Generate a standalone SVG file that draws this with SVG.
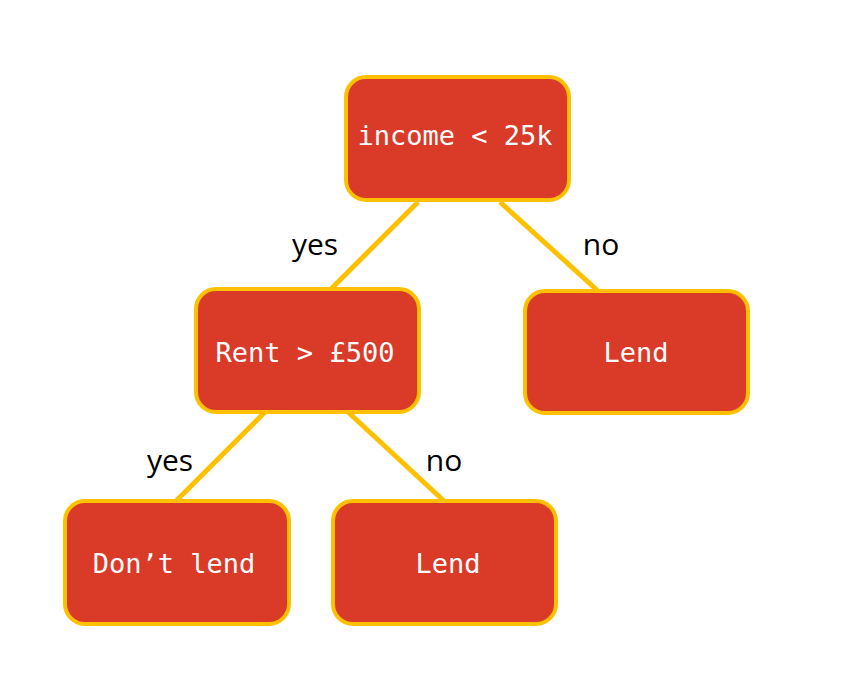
<svg xmlns="http://www.w3.org/2000/svg" width="841" height="685" viewBox="0 0 841 685">
<style>
.box{fill:#DA3A28;stroke:#FFC000;stroke-width:4}
.t{font-family:"DejaVu Sans Mono","Liberation Mono",monospace;font-size:27px;fill:#fff;text-anchor:middle;dominant-baseline:central}
.edge{stroke:#FFC000;stroke-width:5;fill:none}
.lbl{font-family:"Open Sans","Liberation Sans",sans-serif;font-size:30px;fill:#000;text-anchor:middle}
</style>
<rect width="841" height="685" fill="#fff"/>
<g id="connectors">
<line class="edge" x1="418" y1="202" x2="331" y2="289"/>
<line class="edge" x1="500" y1="202" x2="598" y2="291"/>
<line class="edge" x1="265" y1="412" x2="176" y2="501"/>
<line class="edge" x1="348" y1="412" x2="444" y2="501"/>
<text class="lbl" x="315" y="255">yes</text>
<text class="lbl" x="601" y="255">no</text>
<text class="lbl" x="170" y="471">yes</text>
<text class="lbl" x="444" y="471">no</text>
</g>
<g id="n-income">
<rect class="box" x="346" y="77" width="223" height="123" rx="20"/>
<text class="t" x="455" y="135">income &lt; 25k</text>
</g>
<g id="n-rent">
<rect class="box" x="196" y="289" width="223" height="123" rx="20"/>
<text class="t" x="305" y="352">Rent &gt; £500</text>
</g>
<g id="n-lend1">
<rect class="box" x="525" y="291" width="223" height="122" rx="20"/>
<text class="t" x="636" y="352">Lend</text>
</g>
<g id="n-dontlend">
<rect class="box" x="65" y="501" width="224" height="123" rx="20"/>
<text class="t" x="174" y="563">Don’t lend</text>
</g>
<g id="n-lend2">
<rect class="box" x="333" y="501" width="223" height="123" rx="20"/>
<text class="t" x="448" y="563">Lend</text>
</g>
</svg>
